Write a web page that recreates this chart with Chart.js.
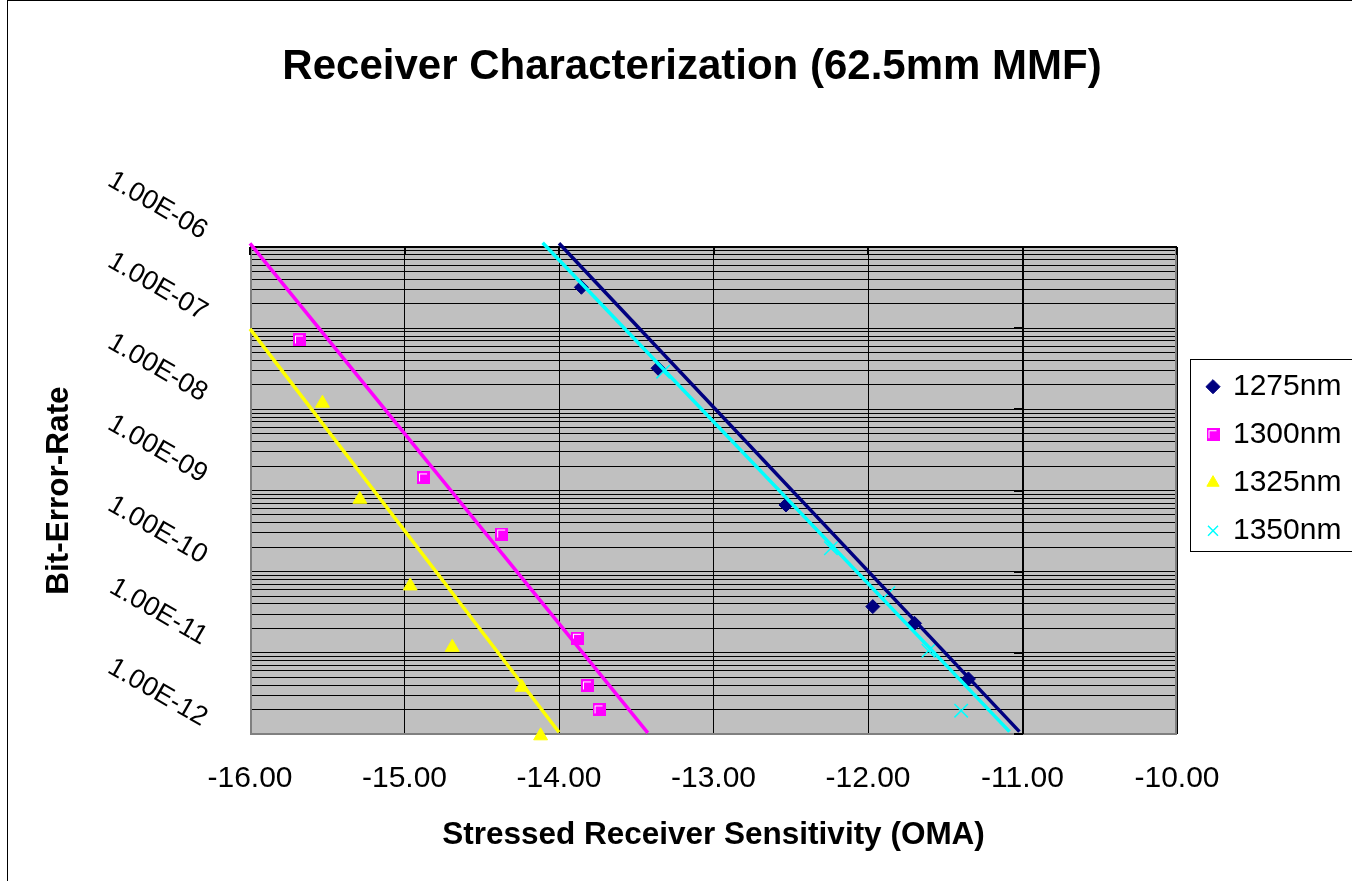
<!DOCTYPE html>
<html>
<head>
<meta charset="utf-8">
<script src="https://cdn.jsdelivr.net/npm/chart.js@4/dist/chart.umd.min.js"></script>
<style>
  html, body { margin: 0; padding: 0; background: #ffffff; }
  #wrap { width: 1352px; height: 881px; }
</style>
</head>
<body>
<div id="wrap"><canvas id="c" width="1352" height="881"></canvas></div>
<script>
// ---------------- DATA ----------------
const chartTitle = 'Receiver Characterization (62.5mm MMF)';
const xAxisTitle = 'Stressed Receiver Sensitivity (OMA)';
const yAxisTitle = 'Bit-Error-Rate';

const xTickValues = [-16, -15, -14, -13, -12, -11, -10];
const yMajorTicks = [1e-6, 1e-7, 1e-8, 1e-9, 1e-10, 1e-11, 1e-12];
const yTickLabels = ['1.00E-06', '1.00E-07', '1.00E-08', '1.00E-09', '1.00E-10', '1.00E-11', '1.00E-12'];
const yAxisCrossX = -11;

const seriesNames = ['1275nm', '1300nm', '1325nm', '1350nm'];

const x1275 = [-13.855, -13.359, -12.531, -11.969, -11.699, -11.350];
const y1275 = [3.19e-7, 3.21e-8, 6.63e-10, 3.71e-11, 2.31e-11, 4.77e-12];

const x1300 = [-15.680, -14.877, -14.371, -13.881, -13.816, -13.741];
const y1300 = [7.15e-8, 1.43e-9, 2.91e-10, 1.51e-11, 3.91e-12, 1.98e-12];

const x1325 = [-15.531, -15.289, -14.963, -14.691, -14.240, -14.119];
const y1325 = [1.19e-8, 7.80e-10, 6.67e-11, 1.17e-11, 3.77e-12, 9.5e-13];

const x1350 = [-13.326, -12.240, -11.868, -11.609, -11.397];
const y1350 = [2.91e-8, 1.94e-10, 5.42e-11, 1.06e-11, 1.94e-12];

// trend lines (end points)
const trend1275X = [-14.00, -11.02];
const trend1275Y = [1.11e-6, 1.07e-12];
const trend1300X = [-16.00, -13.425];
const trend1300Y = [1.11e-6, 1.03e-12];
const trend1325X = [-16.00, -14.00];
const trend1325Y = [9.8e-8, 1.05e-12];
const trend1350X = [-14.106, -11.084];
const trend1350Y = [1.13e-6, 1.07e-12];

// ---------------- STYLE ----------------
const COLORS = ['#000080', '#FF00FF', '#FFFF00', '#00FFFF'];
const FONT = "'Liberation Sans', Arial, Helvetica, sans-serif";
Chart.defaults.font.family = FONT;
Chart.defaults.color = '#000000';

const pts = (xs, ys) => xs.map((x, i) => ({ x: x, y: ys[i] }));

function squareMarker(color) {
  const c = document.createElement('canvas');
  c.width = 13; c.height = 13;
  const g = c.getContext('2d');
  g.fillStyle = color; g.fillRect(0, 0, 13, 13);
  g.fillStyle = '#ffffff';
  g.fillRect(2, 2, 8, 1);
  g.fillRect(2, 2, 1, 8);
  return c;
}

// y gridline values: 1..9 x each decade
const ySorted = yMajorTicks.slice().sort((a, b) => a - b);
const yGridValues = [];
for (let i = 0; i < ySorted.length - 1; i++) {
  for (let m = 1; m <= 9; m++) yGridValues.push(parseFloat((m * ySorted[i]).toPrecision(4)));
}
yGridValues.push(ySorted[ySorted.length - 1]);

function trend(xs, ys, color) {
  return {
    data: pts(xs, ys), showLine: true, borderColor: color, borderWidth: 3.5,
    pointRadius: 0, pointHoverRadius: 0, fill: false, order: 0, clip: false, isTrend: true
  };
}

const datasets = [
  { label: seriesNames[0], data: pts(x1275, y1275), pointStyle: 'rectRot', pointRadius: 7,
    backgroundColor: COLORS[0], borderColor: COLORS[0], borderWidth: 1, order: 1, clip: false },
  { label: seriesNames[1], data: pts(x1300, y1300), pointStyle: squareMarker(COLORS[1]), pointRadius: 6.5,
    backgroundColor: COLORS[1], borderColor: COLORS[1], borderWidth: 1, order: 1, clip: false },
  { label: seriesNames[2], data: pts(x1325, y1325), pointStyle: 'triangle', pointRadius: 8,
    backgroundColor: COLORS[2], borderColor: COLORS[2], borderWidth: 1, order: 1, clip: false },
  { label: seriesNames[3], data: pts(x1350, y1350), pointStyle: 'crossRot', pointRadius: 9.5,
    backgroundColor: COLORS[3], borderColor: COLORS[3], borderWidth: 1.5, order: 1, clip: false },
  trend(trend1275X, trend1275Y, COLORS[0]),
  trend(trend1300X, trend1300Y, COLORS[1]),
  trend(trend1325X, trend1325Y, COLORS[2]),
  trend(trend1350X, trend1350Y, COLORS[3])
];

const LEGEND_BOX = { left: 1190, top: 359, bottom: 551 };
const TITLE_SPAN = { left: 32, right: 1352 };

const framePlugin = {
  id: 'frame',
  beforeDraw(chart) {
    const { ctx, chartArea: a } = chart;
    ctx.save();
    ctx.fillStyle = '#ffffff';
    ctx.fillRect(0, 0, chart.width, chart.height);
    ctx.fillStyle = '#C0C0C0';
    ctx.fillRect(a.left, a.top, a.right - a.left, a.bottom - a.top);
    ctx.restore();
  },
  afterLayout(chart) {
    const lg = chart.legend;
    if (lg) {
      lg.left = LEGEND_BOX.left;
      lg.right = chart.width;
      lg.width = lg.right - lg.left;
      lg.top = LEGEND_BOX.top - 5.3;
      lg.bottom = chart.height;
      lg.height = lg.bottom - lg.top;
    }
    const tb = chart.titleBlock;
    if (tb) {
      tb.left = TITLE_SPAN.left;
      tb.right = TITLE_SPAN.right;
      tb.width = tb.right - tb.left;
    }
  },
  beforeDatasetsDraw(chart) {
    const { ctx, chartArea: a, scales } = chart;
    const xs = scales.x, ys = scales.y;
    ctx.save();
    // grey plot-area border (left, bottom, right)
    ctx.strokeStyle = '#808080';
    ctx.lineWidth = 2;
    ctx.beginPath();
    ctx.moveTo(a.left + 1, a.top);
    ctx.lineTo(a.left + 1, a.bottom);
    ctx.lineTo(a.right - 1, a.bottom);
    ctx.lineTo(a.right - 1, a.top);
    ctx.stroke();
    // x axis line at top with tick marks
    ctx.strokeStyle = '#000000';
    ctx.beginPath();
    ctx.moveTo(a.left, a.top);
    ctx.lineTo(a.right, a.top);
    ctx.stroke();
    xTickValues.forEach(v => {
      const px = Math.round(xs.getPixelForValue(v));
      ctx.beginPath();
      ctx.moveTo(px, a.top);
      ctx.lineTo(px, a.top + 8);
      ctx.stroke();
    });
    // y axis line crossing at x = -11, with tick marks
    const ax = Math.round(xs.getPixelForValue(yAxisCrossX));
    ctx.beginPath();
    ctx.moveTo(ax, a.top);
    ctx.lineTo(ax, a.bottom);
    ctx.stroke();
    yMajorTicks.forEach(v => {
      const py = Math.round(ys.getPixelForValue(v));
      ctx.beginPath();
      ctx.moveTo(ax - 9, py);
      ctx.lineTo(ax, py);
      ctx.stroke();
    });
    ctx.restore();
  },
  afterDraw(chart) {
    const { ctx } = chart;
    ctx.save();
    ctx.strokeStyle = '#000000';
    ctx.lineWidth = 1;
    // outer chart frame
    ctx.strokeRect(7.5, 0.5, chart.width + 10, chart.height + 10);
    // legend frame
    ctx.strokeRect(LEGEND_BOX.left + 0.5, LEGEND_BOX.top + 0.5, chart.width, LEGEND_BOX.bottom - LEGEND_BOX.top);
    ctx.restore();
  }
};

new Chart(document.getElementById('c'), {
  type: 'scatter',
  data: { datasets: datasets },
  plugins: [framePlugin],
  options: {
    responsive: false,
    animation: false,
    events: [],
    layout: { padding: { left: 0, right: 175, top: 0, bottom: 0 } },
    elements: { line: { tension: 0 } },
    plugins: {
      title: {
        display: true, text: chartTitle, color: '#000000',
        font: { size: 42, weight: 'bold' },
        padding: { top: 42, bottom: 154.6 }
      },
      legend: {
        display: true, position: 'chartArea', align: 'start',
        labels: {
          usePointStyle: true, boxWidth: 10, boxHeight: 10, padding: 18, color: '#000000',
          font: { size: 30 },
          filter: (item, data) => !data.datasets[item.datasetIndex].isTrend
        }
      },
      tooltip: { enabled: false }
    },
    scales: {
      x: {
        type: 'linear', min: xTickValues[0], max: xTickValues[xTickValues.length - 1],
        afterBuildTicks: (s) => { s.ticks = xTickValues.map(v => ({ value: v })); },
        afterFit: (s) => { s.height = 147; },
        border: { display: false },
        grid: { color: '#000000', lineWidth: 1, drawTicks: false },
        ticks: {
          autoSkip: false, maxRotation: 0, minRotation: 0, padding: 27, color: '#000000',
          font: { size: 30 },
          callback: (v) => Number(v).toFixed(2)
        },
        title: {
          display: true, text: xAxisTitle, color: '#000000',
          font: { size: 31.5, weight: 'bold' }, padding: { top: 0, bottom: 27 }
        }
      },
      y: {
        type: 'logarithmic', min: ySorted[0], max: ySorted[ySorted.length - 1],
        afterBuildTicks: (s) => { s.ticks = yGridValues.map(v => ({ value: v })); },
        afterFit: (s) => { s.width = 250; },
        border: { display: false },
        grid: { color: '#000000', lineWidth: 1, drawTicks: false },
        ticks: {
          autoSkip: false, minRotation: -30, maxRotation: -30, padding: 45, labelOffset: -14,
          color: '#000000', font: { size: 27 },
          callback: (v) => {
            const i = yMajorTicks.findIndex(t => Math.abs(Math.log10(t) - Math.log10(v)) < 1e-6);
            return i >= 0 ? yTickLabels[i] : '';
          }
        },
        title: {
          display: true, text: yAxisTitle, color: '#000000',
          font: { size: 31.5, weight: 'bold' }, padding: { top: 40, bottom: 0 }
        }
      }
    }
  }
});
</script>
</body>
</html>
